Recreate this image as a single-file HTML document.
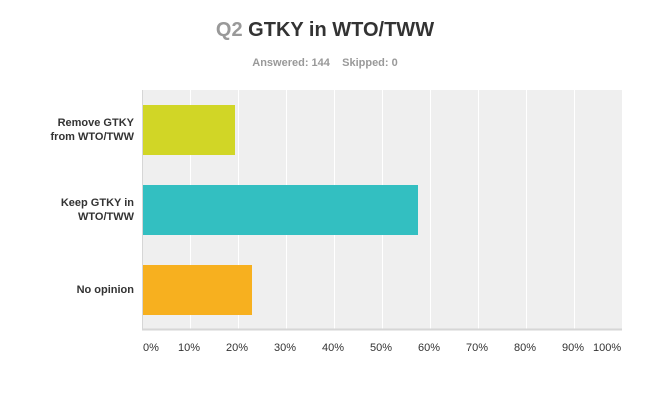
<!DOCTYPE html><html><head><style>
body{margin:0;width:650px;height:403px;background:#fff;font-family:"Liberation Sans",Arial,sans-serif;position:relative;overflow:hidden}
.a{position:absolute}
.t{font-size:11px;color:#333;white-space:nowrap}
.l{font-size:11px;font-weight:bold;color:#333;text-align:right;width:120px;line-height:14px}
</style></head><body>
<div class="a" style="left:0;width:650px;top:19px;text-align:center;font-size:20px;font-weight:bold;color:#333"><span style="color:#999">Q2</span> GTKY in WTO/TWW</div>
<div class="a" style="left:0;width:650px;top:57px;text-align:center;font-size:11px;font-weight:bold;color:#999">Answered: 144&nbsp;&nbsp;&nbsp;&nbsp;Skipped: 0</div>
<svg class="a" style="left:0;top:0" width="650" height="403">
<rect x="142" y="90" width="480" height="239" fill="#efefef"/>
<g stroke="#fff" stroke-width="1">
<line x1="190.5" y1="90" x2="190.5" y2="329"/><line x1="238.5" y1="90" x2="238.5" y2="329"/><line x1="286.5" y1="90" x2="286.5" y2="329"/><line x1="334.5" y1="90" x2="334.5" y2="329"/><line x1="382.5" y1="90" x2="382.5" y2="329"/><line x1="430.5" y1="90" x2="430.5" y2="329"/><line x1="478.5" y1="90" x2="478.5" y2="329"/><line x1="526.5" y1="90" x2="526.5" y2="329"/><line x1="574.5" y1="90" x2="574.5" y2="329"/>
</g>
<rect x="143" y="105" width="92" height="50" fill="#d1d626"/>
<rect x="143" y="185" width="275" height="50" fill="#33bfc1"/>
<rect x="143" y="265" width="109" height="50" fill="#f7b01f"/>
<line x1="142.5" y1="90" x2="142.5" y2="330" stroke="#d6d6d6"/>
<line x1="142" y1="329.5" x2="622" y2="329.5" stroke="#d6d6d6" stroke-width="2"/>
</svg>
<div class="a l" style="left:14px;top:116px">Remove GTKY<br>from WTO/TWW</div>
<div class="a l" style="left:14px;top:196px">Keep GTKY in<br>WTO/TWW</div>
<div class="a l" style="left:14px;top:283px">No opinion</div>
<div class="a t" style="left:143px;top:342px">0%</div>
<div class="a t" style="left:178px;top:342px">10%</div>
<div class="a t" style="left:226px;top:342px">20%</div>
<div class="a t" style="left:274px;top:342px">30%</div>
<div class="a t" style="left:322px;top:342px">40%</div>
<div class="a t" style="left:370px;top:342px">50%</div>
<div class="a t" style="left:418px;top:342px">60%</div>
<div class="a t" style="left:466px;top:342px">70%</div>
<div class="a t" style="left:514px;top:342px">80%</div>
<div class="a t" style="left:562px;top:342px">90%</div>
<div class="a t" style="left:593px;top:342px">100%</div>
</body></html>
